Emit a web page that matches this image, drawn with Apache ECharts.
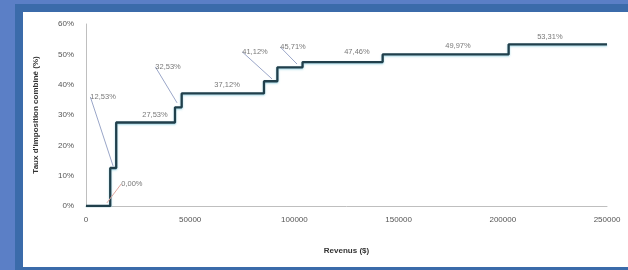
<!DOCTYPE html>
<html>
<head>
<meta charset="utf-8">
<script src="https://cdn.jsdelivr.net/npm/echarts@6/dist/echarts.min.js"></script>
<style>
  html, body { margin: 0; padding: 0; }
  body { width: 628px; height: 270px; background: #5b7fc6; position: relative; overflow: hidden; }
  .frame { position: absolute; left: 15px; top: 4px; right: 0; bottom: 0; background: #3b6baa; }
  #chart { position: absolute; left: 23px; top: 12px; width: 605px; height: 255px; background: #fff; }
</style>
</head>
<body>
<div class="frame"></div>
<div id="chart"></div>
<script>
// paliers : revenu de départ et taux combiné
const bracketStart = [0, 11635, 14500, 42705, 45916, 85405, 91831, 103915, 142353, 202800, 250000]
const bracketRate = [0, 12.53, 27.53, 32.53, 37.12, 41.12, 45.71, 47.46, 49.97, 53.31, 53.31]

// étiquettes
const labelIncome = [10000, 13000, 33100, 43700, 67700, 89250, 101250, 130000, 178500, 222600]
const labelRate = [1, 13.2, 27.53, 34, 37.12, 41.9, 46.8, 47.46, 49.97, 53.31]
const labelText = ['0,00%', '12,53%', '27,53%', '32,53%', '37,12%', '41,12%', '45,71%', '47,46%', '49,97%', '53,31%']

const yTicks = [0, 10, 20, 30, 40, 50, 60]
const xTicks = [0, 50000, 100000, 150000, 200000, 250000]

// décalages des étiquettes (px)
const offsets = [[25, -19], [-10, -69], [0, -8], [-9, -36], [0, -8], [-17, -27], [-4, -17], [0, -10], [0, -8], [0, -7]]
const withLine = [true, true, false, true, false, true, true, false, false, false]
const lineColors = ['#e0a8a0', '#9aa6c8', '', '#9aa6c8', '', '#9aa6c8', '#9aa6c8', '', '', '']

const chart = echarts.init(document.getElementById('chart'))

const option = {
  animation: false,
  grid: { left: 63, right: 21, top: 12, bottom: 61 },
  xAxis: {
    type: 'value',
    min: xTicks[0],
    max: xTicks[xTicks.length - 1],
    interval: 50000,
    name: 'Revenus ($)',
    nameLocation: 'middle',
    nameGap: 41,
    nameTextStyle: { fontFamily: 'Liberation Sans', fontSize: 8, fontWeight: 'bold', color: '#333' },
    axisLine: { lineStyle: { color: '#bfbfbf' } },
    axisTick: { show: false },
    splitLine: { show: false },
    axisLabel: { fontFamily: 'Liberation Sans', fontSize: 8, color: '#555', margin: 10, formatter: v => String(v) }
  },
  yAxis: {
    type: 'value',
    min: yTicks[0],
    max: yTicks[yTicks.length - 1],
    interval: 10,
    name: "Taux d'imposition combiné (%)",
    nameLocation: 'middle',
    nameGap: 46,
    nameTextStyle: { fontFamily: 'Liberation Sans', fontSize: 8, fontWeight: 'bold', color: '#333' },
    axisLine: { show: true, lineStyle: { color: '#bfbfbf' } },
    axisTick: { show: false },
    splitLine: { show: false },
    axisLabel: { fontFamily: 'Liberation Sans', fontSize: 8, color: '#555', formatter: '{value}%', margin: 12 }
  },
  series: [
    {
      type: 'line',
      step: 'end',
      data: bracketStart.map((x, i) => [x, bracketRate[i]]),
      symbol: 'none',
      lineStyle: { color: '#203f4b', width: 2.3, shadowColor: 'rgba(120,200,220,0.7)', shadowBlur: 2, shadowOffsetY: 1 },
      z: 3
    },
    {
      type: 'scatter',
      data: labelIncome.map((x, i) => ({
        value: [x, labelRate[i]],
        labelLine: { show: withLine[i], lineStyle: { color: lineColors[i] || '#9aa6c8', width: 1 } }
      })),
      symbolSize: 0,
      label: {
        show: true,
        position: 'inside',
        formatter: p => labelText[p.dataIndex],
        fontFamily: 'Liberation Sans',
        fontSize: 7.5,
        color: '#555'
      },
      labelLayout: p => ({ dx: offsets[p.dataIndex][0], dy: offsets[p.dataIndex][1] }),
      z: 4
    }
  ]
}

chart.setOption(option)
</script>
</body>
</html>
